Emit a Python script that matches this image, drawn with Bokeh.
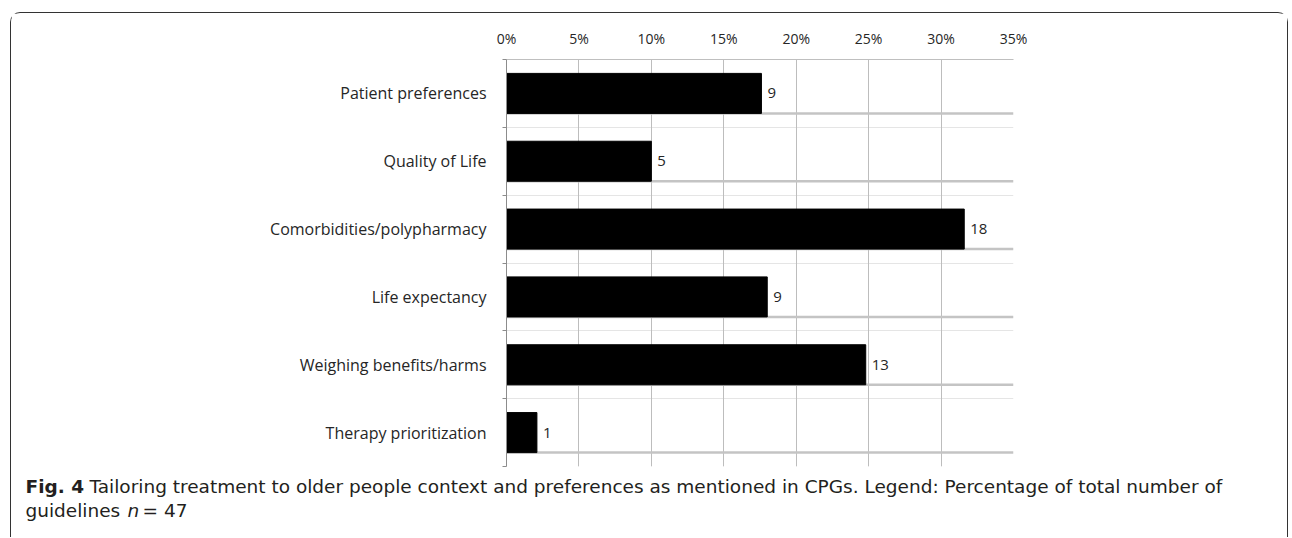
from bokeh.plotting import figure
from bokeh.layouts import column
from bokeh.models import (Range1d, LinearAxis, FixedTicker,
                          LabelSet, ColumnDataSource, Label, Grid)
from bokeh.core.properties import value
from bokeh.transform import dodge
from bokeh.embed import file_html
from bokeh.resources import INLINE

categories = ["Patient preferences", "Quality of Life", "Comorbidities/polypharmacy",
              "Life expectancy", "Weighing benefits/harms", "Therapy prioritization"]
percent = [17.6, 10.0, 31.6, 18.0, 24.8, 2.1]
counts = ["9", "5", "18", "9", "13", "1"]
x_ticks = [0, 5, 10, 15, 20, 25, 30, 35]
x_tick_labels = ["0%", "5%", "10%", "15%", "20%", "25%", "30%", "35%"]
caption_bold = "Fig. 4"
caption_line1 = "Tailoring treatment to older people context and preferences as mentioned in CPGs. Legend: Percentage of total number of"
caption_line2a = "guidelines"
caption_line2b = "n"
caption_line2c = "= 47"

W = 1276          # inner width of the bordered panel
HC, HK = 454, 70  # chart height, caption height
TXT = "#262626"
CAP = "#231f20"
CAP_SIZE = "18.5px"

n = len(categories)
ypos = [n - i - 0.5 for i in range(n)]  # band centres, first category on top
src = ColumnDataSource(data=dict(cat=categories, y=ypos, pct=percent, cnt=counts))

p = figure(width=W, height=HC, output_backend="svg", toolbar_location=None,
           y_range=Range1d(0, n),
           x_range=Range1d(x_ticks[0], x_ticks[-1]),
           x_axis_location=None, y_axis_location=None, frame_align=False,
           min_border_left=495, min_border_right=274, min_border_top=46, min_border_bottom=1)
p.outline_line_color = None
p.background_fill_color = "white"
p.border_fill_color = "white"

# top axis
top = LinearAxis(ticker=FixedTicker(ticks=x_ticks),
                 major_label_overrides={t: l for t, l in zip(x_ticks, x_tick_labels)})
top.axis_line_color = "#bfbfbf"
top.major_tick_line_color = None
top.minor_tick_line_color = None
top.major_tick_out = 0
top.major_tick_in = 0
top.major_label_standoff = 12
top.major_label_text_font = "Open Sans"
top.major_label_text_font_size = "14px"
top.major_label_text_color = TXT
p.add_layout(top, "above")

# left category axis: labels at band centres, small ticks at band boundaries
cat_axis = LinearAxis(ticker=FixedTicker(ticks=ypos, minor_ticks=list(range(n + 1))),
                      major_label_overrides={y: c for y, c in zip(ypos, categories)})
cat_axis.axis_line_color = "#8c8c8c"
cat_axis.major_tick_line_color = None
cat_axis.major_tick_out = 0
cat_axis.major_tick_in = 0
cat_axis.minor_tick_line_color = "#8c8c8c"
cat_axis.minor_tick_out = 4
cat_axis.minor_tick_in = 0
cat_axis.major_label_standoff = 16
cat_axis.major_label_text_font = "Open Sans"
cat_axis.major_label_text_font_size = "16px"
cat_axis.major_label_text_color = TXT
p.add_layout(cat_axis, "left")

grid = Grid(dimension=0, ticker=FixedTicker(ticks=x_ticks), grid_line_color="#bdbdbd", grid_line_width=1)
p.add_layout(grid)

# gray baseline under each bar across full width
p.segment(x0=x_ticks[0], x1=x_ticks[-1],
          y0=dodge("y", -0.295), y1=dodge("y", -0.295),
          source=src, line_color="#c4c4c4", line_width=2.5)

p.hbar(y="y", left=0, right="pct", height=0.59, source=src,
       fill_color="black", line_color="black")

labels = LabelSet(x="pct", y="y", text="cnt", source=src, x_offset=6,
                  text_baseline="middle", text_align="left",
                  text_font=value("Open Sans"), text_font_size=value("15px"), text_color=TXT,
                  background_fill_color="white")
p.add_layout(labels)

# caption panel: frame covers the whole canvas
c = figure(width=W, height=HK, output_backend="svg", toolbar_location=None,
           x_range=Range1d(0, 1), y_range=Range1d(0, 1),
           x_axis_location=None, y_axis_location=None, frame_align=False,
           min_border=0, min_border_left=0, min_border_right=0,
           min_border_top=0, min_border_bottom=0)
c.outline_line_color = None
c.grid.visible = False
c.background_fill_color = "white"
c.border_fill_color = "white"


def cap(x, y, text, style="normal"):
    c.add_layout(Label(x=x, y=y, x_units="screen", y_units="screen", text=text,
                       text_font="DejaVu Sans", text_font_style=style, text_font_size=CAP_SIZE,
                       text_color=CAP, text_baseline="alphabetic"))


cap(14, 51, caption_bold, "bold")
cap(78, 51, caption_line1)
cap(14, 27, caption_line2a)
cap(116, 27, caption_line2b, "italic")
cap(131, 27, caption_line2c)

layout = column(p, c, spacing=0,
                styles={"margin": "12px 0 0 10px",
                        "border": "1.5px solid #333333",
                        "border-bottom": "none",
                        "border-radius": "10px 10px 0 0"})

open("out.html", "w").write(file_html(layout, INLINE))
